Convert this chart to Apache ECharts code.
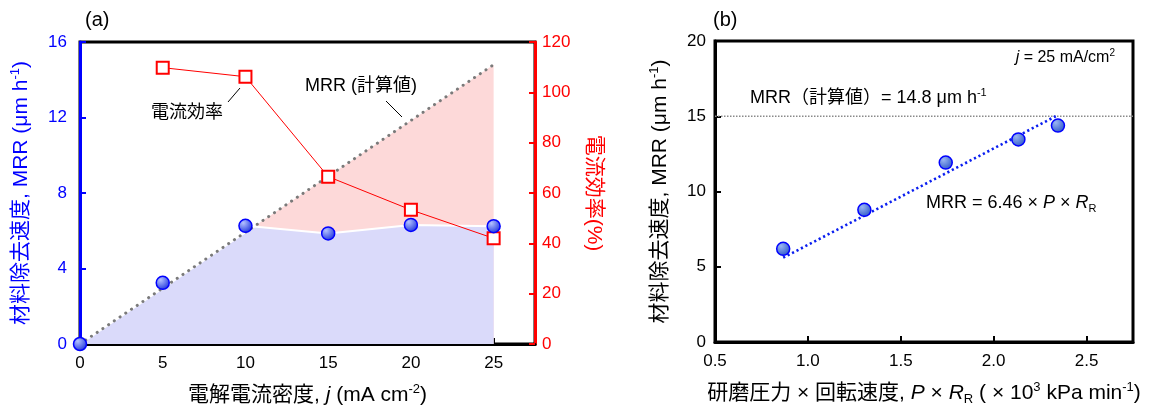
<!DOCTYPE html>
<html>
<head>
<meta charset="utf-8">
<script src="https://cdn.jsdelivr.net/npm/echarts@6/dist/echarts.min.js"></script>
<style>
html,body{margin:0;padding:0;background:#fff;}
#c{width:1154px;height:411px;}
</style>
</head>
<body>
<div id="c"></div>
<script>
// ---------- data: panel (a) ----------
var currentDensity = [0, 5, 10, 15, 20, 25];          // j (mA cm-2)
var mrrExp = [0, 3.24, 6.26, 5.86, 6.31, 6.24];        // MRR experimental (um/h)
var effX = [5, 10, 15, 20, 25];
var efficiency = [109.8, 106.2, 66.5, 53.3, 42.0];     // current efficiency (%)
var calcX = [0, 25];
var calcY = [0, 14.8];                                 // MRR calculated (um/h)
var xTicksA = [0, 5, 10, 15, 20, 25];
var yTicksA = [0, 4, 8, 12, 16];
var y2TicksA = [0, 20, 40, 60, 80, 100, 120];

// ---------- data: panel (b) ----------
var prRate = [0.867, 1.304, 1.742, 2.133, 2.346];      // P x R_R (x10^3 kPa/min)
var mrrB = [6.19, 8.78, 11.92, 13.46, 14.38];
var fitX = [0.867, 2.334];
var fitY = [5.6, 15.0];
var calcLevelB = 15.0;
var xTicksB = [0.5, 1.0, 1.5, 2.0, 2.5];
var yTicksB = [0, 5, 10, 15, 20];

var FONT = "'Liberation Sans', Arial, 'Noto Sans CJK JP', sans-serif";

function calcAt(x) {
  return calcY[0] + (calcY[1] - calcY[0]) * (x - calcX[0]) / (calcX[1] - calcX[0]);
}
// lower boundary = min(calc line, experimental polyline)
function lowerBoundary() {
  var out = [];
  for (var i = 0; i < currentDensity.length; i++) {
    var x = currentDensity[i], e = mrrExp[i], c = calcAt(x);
    if (i > 0) {
      var x0 = currentDensity[i - 1], e0 = mrrExp[i - 1], c0 = calcAt(x0);
      var d0 = e0 - c0, d1 = e - c;
      if (d0 * d1 < 0) {
        var t = d0 / (d0 - d1);
        var xc = x0 + t * (x - x0);
        out.push([xc, calcAt(xc)]);
      }
    }
    out.push([x, Math.min(e, c)]);
  }
  return out;
}

function pairs(xs, ys) { return xs.map(function (x, i) { return [x, ys[i]]; }); }

function richSet(color, size) {
  return {
    t: { fontSize: size, color: color, fontFamily: FONT, lineHeight: size + 4 },
    i: { fontSize: size, color: color, fontFamily: FONT, fontStyle: 'italic', lineHeight: size + 4 },
    s: { fontSize: Math.round(size * 0.6), color: color, fontFamily: FONT, verticalAlign: 'top', lineHeight: size + 4 },
    b: { fontSize: Math.round(size * 0.6), color: color, fontFamily: FONT, verticalAlign: 'bottom', lineHeight: size + 4 }
  };
}

var gradA = { type: 'radial', x: 0.35, y: 0.3, r: 0.75,
  colorStops: [{ offset: 0, color: '#b4c2ff' }, { offset: 1, color: '#1a30dc' }] };
var gradB = { type: 'radial', x: 0.35, y: 0.3, r: 0.75,
  colorStops: [{ offset: 0, color: '#9ab6f2' }, { offset: 1, color: '#2b55c8' }] };

var chart = echarts.init(document.getElementById('c'), null, { renderer: 'canvas' });

function tickLabel(color, margin) {
  return { color: color, fontSize: 17, fontFamily: FONT, margin: margin };
}

var option = {
  animation: false,
  backgroundColor: '#fff',
  grid: [
    { left: 80, right: 619, top: 42, bottom: 63, show: true, borderColor: '#000', borderWidth: 3, containLabel: false },
    { left: 715, right: 21, top: 41, bottom: 64, show: true, borderColor: '#000', borderWidth: 3, containLabel: false }
  ],
  xAxis: [
    { type: 'value', gridIndex: 0, min: 0, max: 27.5,
      axisLine: { lineStyle: { color: '#000', width: 3 } },
      axisTick: { inside: true, length: 6, lineStyle: { color: '#000', width: 2 }, customValues: xTicksA },
      axisLabel: Object.assign(tickLabel('#000', 11), { customValues: xTicksA }),
      splitLine: { show: false },
      name: '{t|電解電流密度, }{i|j}{t| (mA cm}{s|-2}{t|)}',
      nameLocation: 'middle', nameGap: 39,
      nameTextStyle: { rich: richSet('#000', 21) }
    },
    { type: 'value', gridIndex: 1, min: 0.5, max: 2.75,
      axisLine: { lineStyle: { color: '#000', width: 3 } },
      axisTick: { inside: true, length: 6, lineStyle: { color: '#000', width: 2 }, customValues: xTicksB },
      axisLabel: Object.assign(tickLabel('#000', 11), { customValues: xTicksB, formatter: function (v) { return v.toFixed(1); } }),
      splitLine: { show: false },
      name: '{t|研磨圧力 × 回転速度, }{i|P}{t| × }{i|R}{b|R}{t| ( × 10}{s|3}{t| kPa min}{s|-1}{t|)}',
      nameLocation: 'middle', nameGap: 39,
      nameTextStyle: { rich: richSet('#000', 21) }
    }
  ],
  yAxis: [
    { type: 'value', gridIndex: 0, position: 'left', min: 0, max: 16,
      axisLine: { show: true, lineStyle: { color: '#0000ff', width: 3 } },
      axisTick: { show: true, inside: true, length: 6, lineStyle: { color: '#0000ff', width: 2 }, customValues: yTicksA },
      axisLabel: Object.assign(tickLabel('#0000ff', 13), { customValues: yTicksA }),
      splitLine: { show: false },
      name: '{t|材料除去速度, MRR (μm h}{s|-1}{t|)}',
      nameLocation: 'middle', nameGap: 46, nameRotate: 90,
      nameTextStyle: { rich: richSet('#0000ff', 21) }
    },
    { type: 'value', gridIndex: 0, position: 'right', min: 0, max: 120,
      axisLine: { show: true, lineStyle: { color: '#ff0000', width: 3 } },
      axisTick: { show: true, inside: true, length: 6, lineStyle: { color: '#ff0000', width: 2 }, customValues: y2TicksA },
      axisLabel: Object.assign(tickLabel('#ff0000', 7), { customValues: y2TicksA }),
      splitLine: { show: false },
      name: '{t|電流効率(%)}',
      nameLocation: 'middle', nameGap: 46, nameRotate: -90,
      nameTextStyle: { rich: richSet('#ff0000', 21) }
    },
    { type: 'value', gridIndex: 1, position: 'left', min: 0, max: 20,
      axisLine: { show: true, lineStyle: { color: '#000', width: 3 } },
      axisTick: { show: true, inside: true, length: 6, lineStyle: { color: '#000', width: 2 }, customValues: yTicksB },
      axisLabel: Object.assign(tickLabel('#000', 9), { customValues: yTicksB }),
      splitLine: { show: false },
      name: '{t|材料除去速度, MRR (μm h}{s|-1}{t|)}',
      nameLocation: 'middle', nameGap: 42, nameRotate: 90,
      nameTextStyle: { rich: richSet('#000', 21) }
    }
  ],
  series: [
    { type: 'line', xAxisIndex: 0, yAxisIndex: 0, data: pairs(calcX, calcY), symbol: 'none',
      lineStyle: { opacity: 0 }, areaStyle: { color: '#fdd9d9', opacity: 1 }, z: 1, silent: true },
    { type: 'line', xAxisIndex: 0, yAxisIndex: 0, data: lowerBoundary(), symbol: 'none',
      lineStyle: { color: '#ffffff', width: 2 }, areaStyle: { color: '#dadafa', opacity: 1 }, z: 2, silent: true },
    { type: 'line', xAxisIndex: 0, yAxisIndex: 0, data: pairs(calcX, calcY), symbol: 'none',
      lineStyle: { color: '#7a7a7a', width: 3, type: [0.1, 6.8], cap: 'round' }, z: 3, silent: true },
    { type: 'line', xAxisIndex: 0, yAxisIndex: 1, data: pairs(effX, efficiency),
      symbol: 'rect', symbolSize: 12, showAllSymbol: true,
      lineStyle: { color: '#ff0000', width: 1 },
      itemStyle: { color: '#ffffff', borderColor: '#ff0000', borderWidth: 2 }, z: 4 },
    { type: 'scatter', xAxisIndex: 0, yAxisIndex: 0, data: pairs(currentDensity, mrrExp),
      symbol: 'circle', symbolSize: 13,
      itemStyle: { color: gradA, borderColor: '#0000ff', borderWidth: 1.5, opacity: 1 }, z: 5 },

    { type: 'line', xAxisIndex: 1, yAxisIndex: 2, data: [[0.5, calcLevelB], [2.75, calcLevelB]], symbol: 'none',
      lineStyle: { color: '#8a8a8a', width: 1.5, type: [1.5, 1.5] }, z: 2, silent: true },
    { type: 'line', xAxisIndex: 1, yAxisIndex: 2, data: pairs(fitX, fitY), symbol: 'none',
      lineStyle: { color: '#0a1ef0', width: 2.6, type: [2.2, 2.8] }, z: 3, silent: true },
    { type: 'scatter', xAxisIndex: 1, yAxisIndex: 2, data: pairs(prRate, mrrB),
      symbol: 'circle', symbolSize: 13,
      itemStyle: { color: gradB, borderColor: '#0000ff', borderWidth: 1.5, opacity: 1 }, z: 5 }
  ],
  graphic: [
    { type: 'text', left: 85, top: 10, style: { text: '(a)', font: '20px ' + FONT, fill: '#000' } },
    { type: 'text', left: 713, top: 10, style: { text: '(b)', font: '20px ' + FONT, fill: '#000' } },
    { type: 'text', x: 305, y: 86, style: { text: 'MRR (計算値)', font: '18px ' + FONT, fill: '#000', textVerticalAlign: 'middle' } },
    { type: 'line', shape: { x1: 386, y1: 101, x2: 402, y2: 117 }, style: { stroke: '#000', lineWidth: 1 } },
    { type: 'text', x: 151, y: 113, style: { text: '電流効率', font: '18px ' + FONT, fill: '#000', textVerticalAlign: 'middle' } },
    { type: 'line', shape: { x1: 228, y1: 102, x2: 240, y2: 88 }, style: { stroke: '#000', lineWidth: 1 } },
    { type: 'text', x: 288, y: 277, style: { text: 'MRR（実験値）', font: '18px ' + FONT, fill: '#000', textVerticalAlign: 'middle' } },
    { type: 'line', shape: { x1: 308, y1: 260, x2: 322, y2: 245 }, style: { stroke: '#000', lineWidth: 1 } },
    { type: 'text', x: 1115, y: 58, style: { text: '{i|j}{t| = 25 mA/cm}{s|2}', rich: richSet('#000', 16), textAlign: 'right', textVerticalAlign: 'middle' } },
    { type: 'text', x: 750, y: 98, style: { text: '{t|MRR（計算値）= 14.8 μm h}{s|-1}', rich: richSet('#000', 18), textVerticalAlign: 'middle' } },
    { type: 'text', x: 926, y: 203, style: { text: '{t|MRR = 6.46 × }{i|P}{t| × }{i|R}{b|R}', rich: richSet('#000', 18), textVerticalAlign: 'middle' } }
  ]
};
chart.setOption(option);
</script>
</body>
</html>
